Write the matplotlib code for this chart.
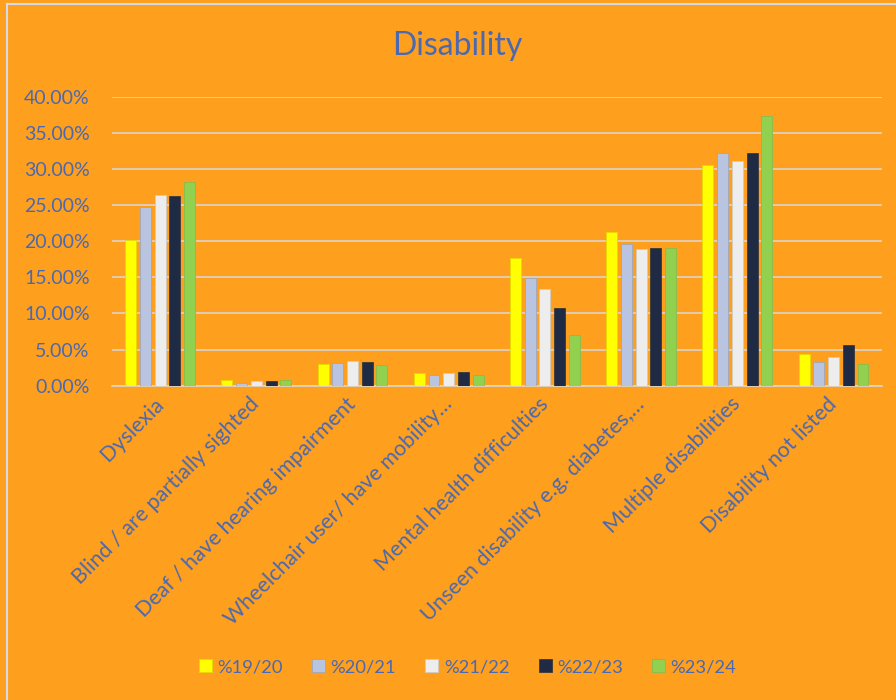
import numpy as np
import matplotlib
matplotlib.use("Agg")
import matplotlib.pyplot as plt
from matplotlib.ticker import PercentFormatter

categories = [
    "Dyslexia",
    "Blind / are partially sighted",
    "Deaf / have hearing impairment",
    "Wheelchair user/ have mobility\u2026",
    "Mental health difficulties",
    "Unseen disability e.g. diabetes,\u2026",
    "Multiple disabilities",
    "Disability not listed",
]
years = ["%19/20", "%20/21", "%21/22", "%22/23", "%23/24"]

y1920 = [20.2, 0.75, 3.0, 1.75, 17.6, 21.3, 30.6, 4.35]
y2021 = [24.7, 0.35, 3.15, 1.5, 14.9, 19.6, 32.2, 3.3]
y2122 = [26.4, 0.6, 3.4, 1.8, 13.4, 18.9, 31.1, 3.95]
y2223 = [26.3, 0.6, 3.3, 1.85, 10.7, 19.0, 32.2, 5.65]
y2324 = [28.2, 0.8, 2.8, 1.5, 7.0, 19.0, 37.3, 2.95]
series = [y1920, y2021, y2122, y2223, y2324]

colors = ["#FFFF00", "#B9C5E0", "#EDEDED", "#1F2A44", "#92D050"]
edges = ["#E8D800", "#9FA9BE", "#D0CCC4", "#3A3A3A", "#86BD4C"]
bg = "#FF9F1E"
text_col = "#4A69B0"

plt.rcParams["font.family"] = ["Lato", "DejaVu Sans"]

fig = plt.figure(figsize=(8.96, 7.0), dpi=100, facecolor=bg)
ax = fig.add_axes([0.125, 0.449, 0.859, 0.413])
ax.set_facecolor(bg)

x = np.arange(len(categories))
pitch = 0.153
width = 0.114
for i, (vals, c, ec, lab) in enumerate(zip(series, colors, edges, years)):
    ax.bar(x + (i - 2) * pitch, np.array(vals) / 100, width, color=c,
           edgecolor=ec, linewidth=0.6, label=lab, zorder=3)

ax.set_xlim(-0.5, len(categories) - 0.5)
ax.set_ylim(0, 0.40)
ax.set_yticks(np.arange(0, 0.401, 0.05))
ax.yaxis.set_major_formatter(PercentFormatter(1.0, decimals=2))
ax.grid(axis="y", color="#D9D9D9", linewidth=1.1, zorder=0)
for s in ["top", "right", "left"]:
    ax.spines[s].set_visible(False)
ax.spines["bottom"].set_color("#D9D9D9")
ax.spines["bottom"].set_linewidth(1.1)
ax.tick_params(axis="y", length=0, pad=16, labelsize=14, labelcolor=text_col)
ax.tick_params(axis="x", length=0, pad=11, labelsize=15.5, labelcolor=text_col)
ax.set_xticks(x)
ax.set_xticklabels(categories, rotation=45, ha="right", va="center",
                   rotation_mode="anchor")

fig.text(0.51, 0.934, "Disability", ha="center", va="center", fontsize=23,
         color=text_col)

handles, labels = ax.get_legend_handles_labels()
leg = fig.legend(handles, labels, loc="center", bbox_to_anchor=(0.522, 0.047),
                 ncol=5, frameon=False, fontsize=13.2, handlelength=0.7,
                 handleheight=0.7, handletextpad=0.3, columnspacing=1.6)
for t in leg.get_texts():
    t.set_color(text_col)

# thin frame at the top and left edge like the source export
fig.add_artist(plt.Line2D([0.008, 0.008], [0, 0.995], color="#D5DAE8",
                          linewidth=1.5, transform=fig.transFigure))
fig.add_artist(plt.Line2D([0.008, 1], [0.995, 0.995], color="#D5DAE8",
                          linewidth=1.5, transform=fig.transFigure))

fig.savefig("out.png", dpi=100, facecolor=bg)
